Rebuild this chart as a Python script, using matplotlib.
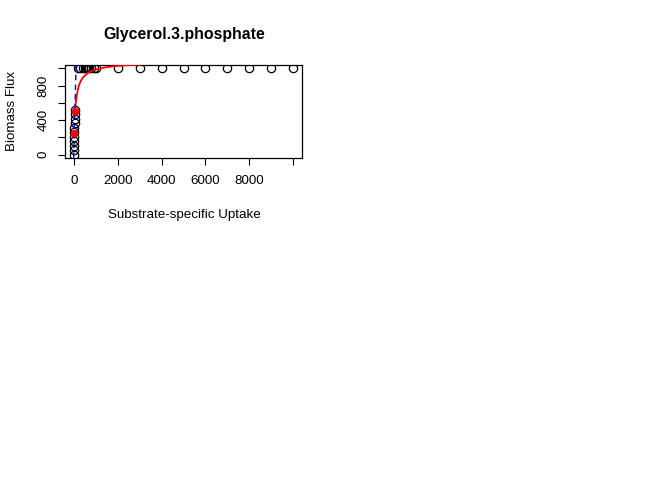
import numpy as np
import matplotlib.pyplot as plt

plt.rcParams['font.family'] = ['Liberation Sans', 'DejaVu Sans']

# observed points (uptake, biomass flux)
uptake_low = [0, 5, 10, 15, 20, 25, 30, 35, 40, 45, 50]
flux_low = [0, 52, 104, 156, 208, 260, 312, 364, 416, 468, 520]
uptake_high = [200, 300, 400, 500, 600, 700, 800, 900, 1000,
               2000, 3000, 4000, 5000, 6000, 7000, 8000, 9000, 10000]
flux_high = [1000] * len(uptake_high)

# highlighted points
uptake_red = [25, 50]
flux_red = [250, 500]

# fitted saturation curve
curve_x = [70, 90, 120, 160, 200, 260, 330, 420, 520, 650, 800, 1000,
           1250, 1500, 1800, 2200, 2600, 3100]
curve_y = [540, 600, 665, 725, 770, 820, 860, 895, 922, 948, 968, 988,
           1004, 1015, 1025, 1034, 1040, 1046]

# linear initial slope line
line_slope = 10.0

fig = plt.figure(figsize=(6.72, 4.8), dpi=100)
ax = fig.add_axes([65/672, 1-158/480, 237/672, 93/480])

ax.plot(uptake_low + uptake_high, flux_low + flux_high, 'o', mfc='none',
        mec='black', ms=6, mew=0.9, zorder=2)
ax.plot(curve_x, curve_y, '-', color='red', lw=1.3, zorder=3)
ax.axline((0, 0), slope=line_slope, color='blue', ls=(0, (4, 3)), lw=1.0, zorder=4)
ax.plot(uptake_red, flux_red, 'o', color='red', ms=4.5, zorder=5)

ax.set_xlim(-400, 10400)
ax.set_ylim(-40, 1040)
ax.set_xticks(np.arange(0, 10001, 2000))
ax.set_xticklabels(['0', '2000', '4000', '6000', '8000', ''])
ax.set_yticks(np.arange(0, 1001, 200))
ax.set_yticklabels(['0', '', '400', '', '800', ''], rotation=90, va='center')
ax.tick_params(direction='out', length=5, width=0.8, labelsize=9.6, pad=7)
ax.tick_params(axis='y', pad=6)
for s in ax.spines.values():
    s.set_linewidth(0.9)

fig.text(184/672, 1-34/480, 'Glycerol.3.phosphate', ha='center', va='center',
         fontsize=11.4, fontweight='bold')
fig.text(184/672, 1-215/480, 'Substrate-specific Uptake', ha='center', va='center',
         fontsize=9.6)
fig.text(12/672, 1-111/480, 'Biomass Flux', ha='center', va='center',
         fontsize=9.6, rotation=90)

fig.savefig('out.png', dpi=100)
